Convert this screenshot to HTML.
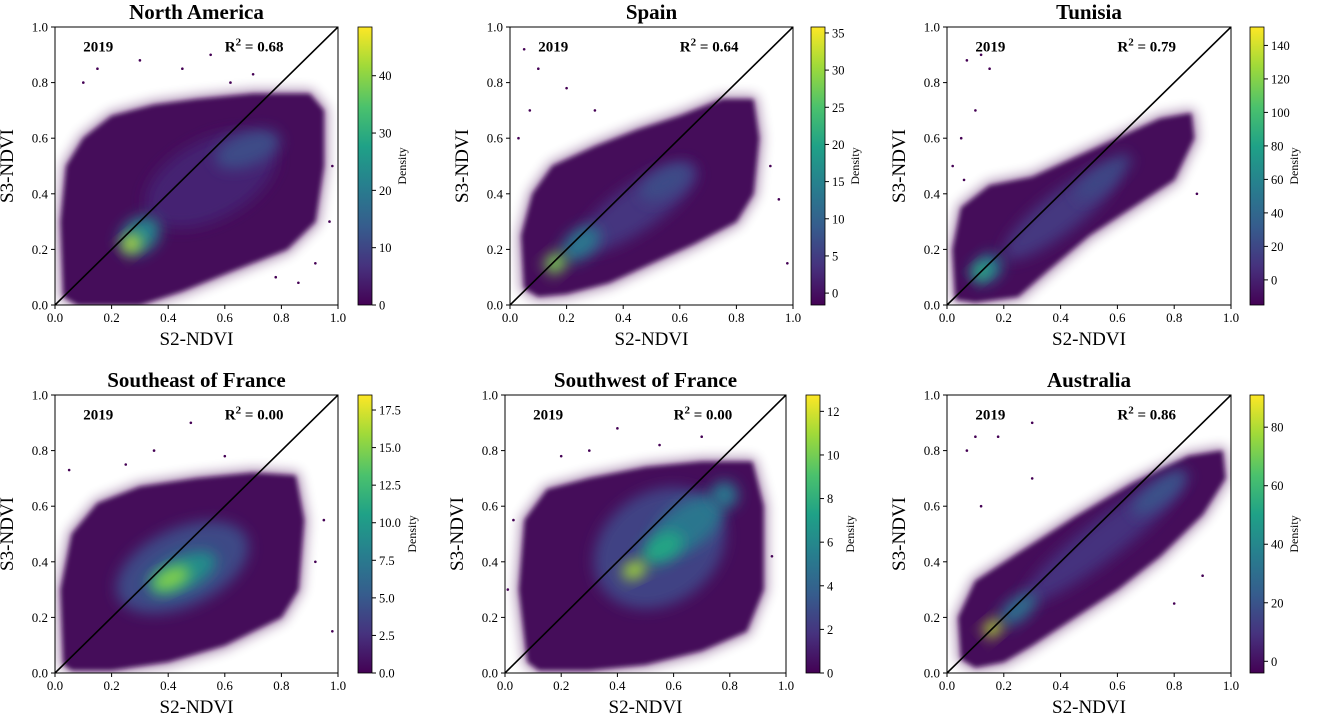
<!DOCTYPE html>
<html><head><meta charset="utf-8"><style>
body{margin:0;background:#fff;}
svg text{font-family:"Liberation Serif",serif;}
</style></head><body>
<svg id="fig" width="1319" height="720" viewBox="0 0 1319 720">
<defs>
<linearGradient id="viridis" x1="0" y1="1" x2="0" y2="0">
<stop offset="0" stop-color="#440154"/><stop offset="0.14" stop-color="#46327e"/><stop offset="0.28" stop-color="#365c8d"/><stop offset="0.43" stop-color="#277f8e"/><stop offset="0.57" stop-color="#1fa187"/><stop offset="0.71" stop-color="#4ac16d"/><stop offset="0.86" stop-color="#a0da39"/><stop offset="1" stop-color="#fde725"/>
</linearGradient>
<filter id="blurS" x="-20%" y="-20%" width="140%" height="140%"><feGaussianBlur stdDeviation="2.5"/></filter>
<filter id="blurH" x="-20%" y="-20%" width="140%" height="140%"><feGaussianBlur stdDeviation="6"/></filter>
<filter id="blurL" x="-50%" y="-50%" width="200%" height="200%"><feGaussianBlur stdDeviation="7"/></filter>
</defs>
</svg>
<script>
const titles=["North America","Spain","Tunisia","Southeast of France","Southwest of France","Australia"];
const r2Values=["0.68","0.64","0.79","0.00","0.00","0.86"];
const yearLabel="2019";
const axisTicks=[0,0.2,0.4,0.6,0.8,1.0];
const cbarMin=[0,-1.6,-15,0,0,-4];
const cbarMax=[48.5,35.8,151,18.5,12.75,91];
const cbarTicks=[[0,10,20,30,40],[0,5,10,15,20,25,30,35],[0,20,40,60,80,100,120,140],[0,2.5,5,7.5,10,12.5,15,17.5],[0,2,4,6,8,10,12],[0,20,40,60,80]];
const cbarTickLabels=[null,null,null,["0.0","2.5","5.0","7.5","10.0","12.5","15.0","17.5"],null,null];
const envelopeNA=[[0.03,0.03],[0.02,0.3],[0.04,0.5],[0.1,0.6],[0.2,0.68],[0.35,0.72],[0.5,0.74],[0.7,0.76],[0.9,0.76],[0.95,0.7],[0.95,0.5],[0.92,0.3],[0.82,0.2],[0.62,0.12],[0.45,0.05],[0.3,0.0],[0.08,0.0]];
const envelopeES=[[0.05,0.06],[0.04,0.25],[0.08,0.4],[0.15,0.5],[0.3,0.57],[0.45,0.63],[0.6,0.68],[0.75,0.74],[0.86,0.74],[0.88,0.6],[0.86,0.4],[0.8,0.3],[0.65,0.22],[0.5,0.15],[0.35,0.08],[0.2,0.04],[0.1,0.03]];
const envelopeTN=[[0.03,0.02],[0.02,0.2],[0.05,0.35],[0.15,0.43],[0.3,0.46],[0.45,0.53],[0.6,0.6],[0.75,0.67],[0.86,0.69],[0.87,0.6],[0.8,0.45],[0.65,0.35],[0.5,0.25],[0.35,0.12],[0.25,0.03],[0.1,0.01]];
const envelopeSE=[[0.03,0.03],[0.02,0.3],[0.06,0.5],[0.15,0.61],[0.3,0.67],[0.5,0.7],[0.7,0.72],[0.85,0.71],[0.88,0.55],[0.86,0.3],[0.8,0.2],[0.6,0.1],[0.4,0.04],[0.2,0.01],[0.06,0.01]];
const envelopeSW=[[0.08,0.04],[0.05,0.3],[0.07,0.55],[0.15,0.66],[0.3,0.7],[0.5,0.74],[0.7,0.76],[0.88,0.76],[0.92,0.6],[0.92,0.3],[0.86,0.15],[0.7,0.08],[0.5,0.03],[0.3,0.01],[0.12,0.01]];
const envelopeAU=[[0.05,0.05],[0.04,0.2],[0.1,0.33],[0.25,0.43],[0.45,0.56],[0.65,0.68],[0.85,0.78],[0.97,0.8],[0.98,0.7],[0.9,0.57],[0.75,0.42],[0.6,0.3],[0.45,0.2],[0.3,0.1],[0.2,0.04],[0.1,0.02]];
const envelopes=[envelopeNA,envelopeES,envelopeTN,envelopeSE,envelopeSW,envelopeAU];
// blobs: [cx, cy, rx, ry, angleDeg, density]
const blobsNA=[[0.55,0.45,0.25,0.14,28,5],[0.68,0.56,0.12,0.06,20,11],[0.3,0.25,0.08,0.06,40,22],[0.27,0.22,0.035,0.03,40,44]];
const blobsES=[[0.45,0.35,0.25,0.08,35,4],[0.55,0.44,0.1,0.05,30,7],[0.25,0.22,0.08,0.05,40,13],[0.16,0.15,0.04,0.035,40,28]];
const blobsTN=[[0.4,0.33,0.25,0.07,38,12],[0.55,0.46,0.12,0.04,38,20],[0.14,0.13,0.06,0.045,40,55],[0.12,0.12,0.03,0.025,40,90]];
const blobsSE=[[0.45,0.38,0.25,0.14,25,4],[0.45,0.36,0.13,0.06,25,9],[0.41,0.34,0.07,0.035,25,15]];
const blobsSW=[[0.55,0.45,0.25,0.2,35,2.5],[0.65,0.53,0.14,0.08,35,5],[0.56,0.45,0.08,0.05,30,7.5],[0.46,0.37,0.045,0.03,25,11],[0.78,0.64,0.05,0.05,0,5]];
const blobsAU=[[0.55,0.48,0.35,0.07,38,10],[0.75,0.65,0.12,0.04,38,20],[0.25,0.23,0.08,0.04,40,30],[0.16,0.16,0.035,0.028,40,80]];
const blobs=[blobsNA,blobsES,blobsTN,blobsSE,blobsSW,blobsAU];
const outliersNA=[[0.3,0.88],[0.55,0.9],[0.7,0.83],[0.15,0.85],[0.98,0.5],[0.78,0.1],[0.92,0.15],[0.1,0.8],[0.45,0.85],[0.62,0.8],[0.97,0.3],[0.86,0.08]];
const outliersES=[[0.05,0.92],[0.1,0.85],[0.2,0.78],[0.95,0.38],[0.98,0.15],[0.03,0.6],[0.07,0.7],[0.3,0.7],[0.92,0.5]];
const outliersTN=[[0.07,0.88],[0.12,0.9],[0.15,0.85],[0.05,0.6],[0.02,0.5],[0.88,0.4],[0.1,0.7],[0.06,0.45]];
const outliersSE=[[0.35,0.8],[0.48,0.9],[0.95,0.55],[0.98,0.15],[0.05,0.73],[0.25,0.75],[0.92,0.4],[0.6,0.78]];
const outliersSW=[[0.3,0.8],[0.4,0.88],[0.55,0.82],[0.01,0.3],[0.95,0.42],[0.2,0.78],[0.7,0.85],[0.03,0.55]];
const outliersAU=[[0.1,0.85],[0.18,0.85],[0.3,0.9],[0.07,0.8],[0.9,0.35],[0.12,0.6],[0.8,0.25],[0.3,0.7]];
const outliers=[outliersNA,outliersES,outliersTN,outliersSE,outliersSW,outliersAU];

const panels=[[55,27,283,278,358],[510,27,283,278,811],[947,27,284,278,1250],[55,395,283,278,358],[505,395,281,278,806],[947,395,284,278,1250]];
const NS="http://www.w3.org/2000/svg";
const fig=document.getElementById('fig');
function mk(tag,attrs,parent,txt){const e=document.createElementNS(NS,tag);for(const k in attrs)e.setAttribute(k,attrs[k]);if(txt!==undefined)e.textContent=txt;(parent||fig).appendChild(e);return e;}
const vir=["#440154","#46327e","#365c8d","#277f8e","#1fa187","#4ac16d","#a0da39","#fde725"];
function hex(h){return [1,3,5].map(i=>parseInt(h.substr(i,2),16));}
function cmap(t){t=Math.max(0,Math.min(1,t));const p=t*7,i=Math.min(6,Math.floor(p)),f=p-i;const a=hex(vir[i]),b=hex(vir[i+1]);return 'rgb('+a.map((v,k)=>Math.round(v+(b[k]-v)*f)).join(',')+')';}

panels.forEach((P,pi)=>{
  const [x0,y0,w,h,cbx]=P;
  const sx=v=>x0+v*w, sy=v=>y0+h-v*h;
  const g=mk('g',{},fig);
  
  
  const cp=mk('clipPath',{id:'clip'+pi},g);
  mk('rect',{x:x0,y:y0,width:w,height:h},cp);
  const dg=mk('g',{'clip-path':'url(#clip'+pi+')'},g);
  const pts=envelopes[pi].map(p=>sx(p[0])+','+sy(p[1])).join(' ');
  const halo=mk('polygon',{points:pts,fill:'#440154',stroke:'#440154','stroke-width':8,'stroke-linejoin':'round',opacity:0.45,filter:'url(#blurH)'},dg);
  
  
  const env=mk('polygon',{points:pts,fill:cmap(0.02),filter:'url(#blurS)'},dg);
  
  
  const lo=cbarMin[pi],hi=cbarMax[pi];
  blobs[pi].forEach(b=>{
    const e=mk('ellipse',{cx:sx(b[0]),cy:sy(b[1]),rx:b[2]*w,ry:b[3]*h,fill:cmap((b[5]-lo)/(hi-lo)),filter:'url(#blurL)',transform:'rotate('+(-b[4])+' '+sx(b[0])+' '+sy(b[1])+')'},dg);
    
    
  });
  outliers[pi].forEach(o=>{
    const c=mk('circle',{cx:sx(o[0]),cy:sy(o[1]),r:1.3,fill:'#440154'},dg);
    
    
  });
  const ln=mk('line',{x1:sx(0),y1:sy(0),x2:sx(1),y2:sy(1),stroke:'#000','stroke-width':1.6},dg);
  
  
  const fr=mk('rect',{x:x0,y:y0,width:w,height:h,fill:'none',stroke:'#000','stroke-width':1},g);
  
  
  axisTicks.forEach(t=>{
    mk('line',{x1:sx(t),y1:y0+h,x2:sx(t),y2:y0+h+4,stroke:'#000'},g);
    const xl=mk('text',{x:sx(t),y:y0+h+17,'text-anchor':'middle','font-size':13},g,t.toFixed(1));
    
    
    mk('line',{x1:x0-4,y1:sy(t),x2:x0,y2:sy(t),stroke:'#000'},g);
    const yl=mk('text',{x:x0-7,y:sy(t)+4.5,'text-anchor':'end','font-size':13},g,t.toFixed(1));
    
    
  });
  const tt=mk('text',{x:x0+w/2,y:y0-8,'text-anchor':'middle','font-size':21,'font-weight':'bold'},g,titles[pi]);
  
  
  const xt=mk('text',{x:x0+w/2,y:y0+h+40,'text-anchor':'middle','font-size':19},g,'S2-NDVI');
  
  
  const yt=mk('text',{x:0,y:0,'text-anchor':'middle','font-size':19,transform:'translate('+(x0-42)+','+(y0+h/2)+') rotate(-90)'},g,'S3-NDVI');
  
  
  const yr=mk('text',{x:sx(0.1),y:sy(0.93)+5,'font-size':15,'font-weight':'bold'},g,yearLabel);
  
  
  const r2=mk('text',{x:sx(0.6),y:sy(0.93)+5,'font-size':15,'font-weight':'bold'},g);
  
  
  mk('tspan',{},r2,'R');mk('tspan',{dy:-6,'font-size':11},r2,'2');mk('tspan',{dy:6},r2,' = '+r2Values[pi]);
  const cb=mk('rect',{x:cbx,y:y0,width:14,height:h,fill:'url(#viridis)',stroke:'#000','stroke-width':0.8},g);
  
  
  const cy=v=>y0+h-(v-lo)/(hi-lo)*h;
  let maxLen=0;
  cbarTicks[pi].forEach((t,ti)=>{
    mk('line',{x1:cbx+14,y1:cy(t),x2:cbx+18,y2:cy(t),stroke:'#000'},g);
    const lab=cbarTickLabels[pi]?cbarTickLabels[pi][ti]:String(t);
    maxLen=Math.max(maxLen,lab.length);
    const cl=mk('text',{x:cbx+21,y:cy(t)+4.5,'font-size':12.5},g,lab);
    
    
  });
  const dx=maxLen>=4?58:48;
  const dl=mk('text',{x:0,y:0,'text-anchor':'middle','font-size':12,'font-family':'Liberation Sans, sans-serif',transform:'translate('+(cbx+dx)+','+(y0+h/2)+') rotate(-90)'},g,'Density');
  
  
});
</script>
</body></html>
